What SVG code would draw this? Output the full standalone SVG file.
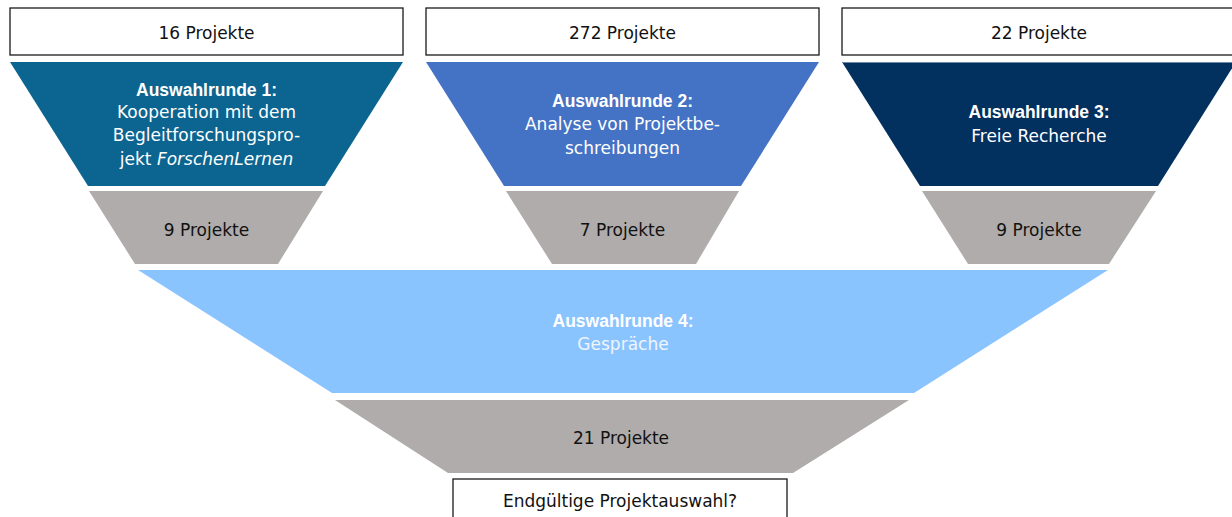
<svg xmlns="http://www.w3.org/2000/svg" width="1232" height="517" viewBox="0 0 1232 517">
<style>
.box{fill:#ffffff;stroke:#1a1a1a;stroke-width:1.3}
.gray{fill:#AFACAB}
.t{font-family:"DejaVu Sans",sans-serif;font-size:17px;fill:#111111;text-anchor:middle}
.w{font-family:"DejaVu Sans",sans-serif;font-size:17px;fill:#ffffff;text-anchor:middle}
.b{font-family:"Liberation Sans",Arial,sans-serif;font-size:17.5px;font-weight:bold;fill:#ffffff;text-anchor:middle}
.lw{font-family:"DejaVu Sans",sans-serif;font-size:17px;fill:#EEF5FF;text-anchor:middle}
</style>
<rect width="1232" height="517" fill="#ffffff"/>
<g id="connectors"/>
<g id="start1">
<rect class="box" x="10" y="8" width="393" height="47"/>
<text class="t" x="206.5" y="39">16 Projekte</text>
</g>
<g id="start2">
<rect class="box" x="426" y="8" width="393" height="47"/>
<text class="t" x="622.5" y="39">272 Projekte</text>
</g>
<g id="start3">
<rect class="box" x="842" y="8" width="396" height="47"/>
<text class="t" x="1039" y="39">22 Projekte</text>
</g>
<g id="round1">
<polygon points="10,62 403,62 325,186 88,186" fill="#0B6590"/>
<text class="b" x="206.5" y="96">Auswahlrunde 1:</text>
<text class="w" x="206.5" y="118">Kooperation mit dem</text>
<text class="w" x="206.5" y="141">Begleitforschungspro-</text>
<text class="w" x="206.5" y="165">jekt <tspan font-style="italic">ForschenLernen</tspan></text>
</g>
<g id="round2">
<polygon points="426,62 819,62 741,186 504,186" fill="#4472C4"/>
<text class="b" x="622.5" y="107">Auswahlrunde 2:</text>
<text class="w" x="622.5" y="130">Analyse von Projektbe-</text>
<text class="w" x="622.5" y="154">schreibungen</text>
</g>
<g id="round3">
<polygon points="842,62 1236,62 1158,186 920,186" fill="#02305F"/>
<line x1="842" y1="62.5" x2="1236" y2="62.5" stroke="#6F88A6" stroke-width="1"/>
<text class="b" x="1039" y="118">Auswahlrunde 3:</text>
<text class="w" x="1039" y="142">Freie Recherche</text>
</g>
<g id="result1">
<polygon class="gray" points="89,191 323,191 278,264 135,264"/>
<text class="t" x="206.5" y="236">9 Projekte</text>
</g>
<g id="result2">
<polygon class="gray" points="506,191 739,191 696,264 552,264"/>
<text class="t" x="622.5" y="236">7 Projekte</text>
</g>
<g id="result3">
<polygon class="gray" points="922,191 1156,191 1109,264 968,264"/>
<text class="t" x="1039" y="236">9 Projekte</text>
</g>
<g id="round4">
<polygon points="138,270 1108,270 914,393 332,393" fill="#8AC4FF"/>
<text class="b" x="623" y="327">Auswahlrunde 4:</text>
<text class="lw" x="623" y="350">Gespräche</text>
</g>
<g id="result4">
<polygon class="gray" points="335,400 909,400 793,473 448,473"/>
<text class="t" x="621" y="444">21 Projekte</text>
</g>
<g id="final">
<rect class="box" x="453" y="479" width="334" height="42"/>
<text class="t" x="620" y="507">Endgültige Projektauswahl?</text>
</g>
</svg>
